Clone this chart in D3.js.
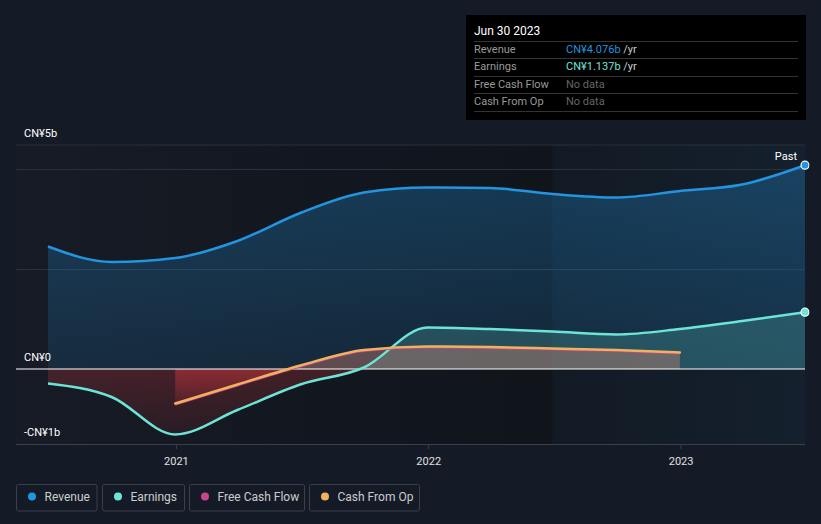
<!DOCTYPE html>
<html>
<head>
<meta charset="utf-8">
<script src="https://cdn.jsdelivr.net/npm/d3@7"></script>
<style>
  html, body { margin: 0; padding: 0; background: #151b26; }
  svg { display: block; font-family: Roboto, "Noto Sans", sans-serif; }
</style>
</head>
<body>
<svg id="chart" width="821" height="524"></svg>
<script>
// ---- data (CN¥ billions, trailing twelve months) ----
const dates = ["2020-06-30","2020-09-30","2020-12-31","2021-03-31","2021-06-30","2021-09-30","2021-12-31","2022-03-31","2022-06-30","2022-09-30","2022-12-31","2023-03-31","2023-06-30"];
const revenue = [2.45, 2.14, 2.22, 2.56, 3.12, 3.53, 3.63, 3.62, 3.50, 3.43, 3.56, 3.69, 4.076];
const earnings = [-0.29, -0.56, -1.31, -0.82, -0.31, 0.03, 0.83, 0.80, 0.75, 0.69, 0.80, 0.96, 1.137];
const cashFromOp = [null, null, -0.69, -0.31, 0.07, 0.38, 0.45, 0.44, 0.41, 0.38, 0.33, null, null];
const freeCashFlow = [null, null, -0.69, -0.31, 0.07, 0.38, 0.45, 0.44, 0.41, 0.38, 0.33, null, null];
const xTicks = ["2021-01-01", "2022-01-01", "2023-01-01"];
const xTickLabels = ["2021", "2022", "2023"];
const yLabels = ["CN¥5b", "CN¥0", "-CN¥1b"];
const yGrid = [4, 2];
const legendNames = ["Revenue", "Earnings", "Free Cash Flow", "Cash From Op"];
const tooltipTitle = "Jun 30 2023";
const tooltipRows = [
  {label: "Revenue", value: "CN¥4.076b", unit: " /yr"},
  {label: "Earnings", value: "CN¥1.137b", unit: " /yr"},
  {label: "Free Cash Flow", value: "No data", unit: ""},
  {label: "Cash From Op", value: "No data", unit: ""}
];
const pastStart = "2022-06-30";

const colors = {rev: "#2394df", earn: "#6ce5d6", fcf: "#c5468a", cfo: "#f0b35d"};
const legendColors = [colors.rev, colors.earn, colors.fcf, colors.cfo];

const parse = d3.timeParse("%Y-%m-%d");
const D = dates.map(parse);

const svg = d3.select("#chart");
const W = 821, H = 524;
const plotL = 16, plotR = 805, plotT = 145, plotB = 444;

const x = d3.scaleTime().domain([D[0], D[D.length - 1]]).range([48, 805]);
const y = d3.scaleLinear().domain([0, 4]).range([369, 169]);
const yTop = y.invert(plotT), yBot = y.invert(plotB);

const defs = svg.append("defs");
// background gradients
const bgGrad = defs.append("linearGradient").attr("id", "bgGrad").attr("x1", 0).attr("x2", 1).attr("y1", 0).attr("y2", 0);
bgGrad.append("stop").attr("offset", 0).attr("stop-color", "#161b25");
bgGrad.append("stop").attr("offset", 1).attr("stop-color", "#10141b");
const pastGrad = defs.append("linearGradient").attr("id", "pastGrad").attr("x1", 0).attr("x2", 1).attr("y1", 0).attr("y2", 0);
pastGrad.append("stop").attr("offset", 0).attr("stop-color", "#121a24");
pastGrad.append("stop").attr("offset", 1).attr("stop-color", "#14202d");

const revGrad = defs.append("linearGradient").attr("id", "revGrad").attr("gradientUnits", "userSpaceOnUse")
  .attr("x1", 0).attr("x2", 0).attr("y1", y(4)).attr("y2", y(0));
revGrad.append("stop").attr("offset", 0).attr("stop-color", colors.rev).attr("stop-opacity", 0.3);
revGrad.append("stop").attr("offset", 1).attr("stop-color", colors.rev).attr("stop-opacity", 0.14);

const redGrad = defs.append("linearGradient").attr("id", "redGrad").attr("gradientUnits", "userSpaceOnUse")
  .attr("x1", 0).attr("x2", 0).attr("y1", y(0)).attr("y2", y(-1.3));
redGrad.append("stop").attr("offset", 0).attr("stop-color", "#e0393e").attr("stop-opacity", 0.24);
redGrad.append("stop").attr("offset", 1).attr("stop-color", "#e0393e").attr("stop-opacity", 0.1);

const redGrad2 = defs.append("linearGradient").attr("id", "redGrad2").attr("gradientUnits", "userSpaceOnUse")
  .attr("x1", 0).attr("x2", 0).attr("y1", y(0)).attr("y2", y(-0.7));
redGrad2.append("stop").attr("offset", 0).attr("stop-color", "#e0393e").attr("stop-opacity", 0.45);
redGrad2.append("stop").attr("offset", 1).attr("stop-color", "#e0393e").attr("stop-opacity", 0.15);

defs.append("clipPath").attr("id", "clipPos").append("rect")
  .attr("x", plotL).attr("y", plotT).attr("width", plotR - plotL).attr("height", y(0) - plotT);
defs.append("clipPath").attr("id", "clipNeg").append("rect")
  .attr("x", plotL).attr("y", y(0)).attr("width", plotR - plotL).attr("height", plotB - y(0));

// plot backgrounds
svg.append("rect").attr("x", plotL).attr("y", plotT).attr("width", x(parse(pastStart)) - plotL).attr("height", plotB - plotT).attr("fill", "url(#bgGrad)");
svg.append("rect").attr("x", x(parse(pastStart))).attr("y", plotT).attr("width", plotR - x(parse(pastStart))).attr("height", plotB - plotT).attr("fill", "url(#pastGrad)");

// grid
svg.append("line").attr("x1", plotL).attr("x2", plotR).attr("y1", plotT).attr("y2", plotT).attr("stroke", "#2b303b").attr("stroke-width", 1);
svg.selectAll(".grid").data(yGrid).enter().append("line")
  .attr("x1", plotL).attr("x2", plotR).attr("y1", d => Math.round(y(d)) + 0.5).attr("y2", d => Math.round(y(d)) + 0.5)
  .attr("stroke", "#2b303b").attr("stroke-width", 1);

const curve = d3.curveMonotoneX;
function series(vals) {
  return vals.map((v, i) => ({d: D[i], v})).filter(p => p.v !== null);
}
const area = d3.area().curve(curve).x(p => x(p.d)).y0(y(0)).y1(p => y(p.v));
const line = d3.line().curve(curve).x(p => x(p.d)).y(p => y(p.v));

const revS = series(revenue), earnS = series(earnings), cfoS = series(cashFromOp), fcfS = series(freeCashFlow);

// areas
svg.append("path").datum(revS).attr("d", area).attr("fill", "url(#revGrad)").attr("clip-path", "url(#clipPos)");
svg.append("path").datum(earnS).attr("d", area).attr("fill", colors.earn).attr("fill-opacity", 0.2).attr("clip-path", "url(#clipPos)");
svg.append("path").datum(earnS).attr("d", area).attr("fill", "url(#redGrad)").attr("clip-path", "url(#clipNeg)");
svg.append("path").datum(cfoS).attr("d", area).attr("fill", "#e8907a").attr("fill-opacity", 0.35).attr("clip-path", "url(#clipPos)");
svg.append("path").datum(cfoS).attr("d", area).attr("fill", "url(#redGrad2)").attr("clip-path", "url(#clipNeg)");

// zero line
svg.append("line").attr("x1", plotL).attr("x2", plotR).attr("y1", y(0)).attr("y2", y(0)).attr("stroke", "#ffffff").attr("stroke-width", 1.2);

// lines
svg.append("path").datum(revS).attr("d", line).attr("fill", "none").attr("stroke", colors.rev).attr("stroke-width", 2.5);
svg.append("path").datum(earnS).attr("d", line).attr("fill", "none").attr("stroke", colors.earn).attr("stroke-width", 2.5);
svg.append("path").datum(fcfS).attr("d", line).attr("fill", "none").attr("stroke", colors.fcf).attr("stroke-width", 2.5).attr("transform", "translate(0,0.8)");
svg.append("path").datum(cfoS).attr("d", line).attr("fill", "none").attr("stroke", colors.cfo).attr("stroke-width", 2.5).attr("stroke-linecap", "round");

// end dots
[[revS, colors.rev], [earnS, colors.earn]].forEach(([s, c]) => {
  const p = s[s.length - 1];
  svg.append("circle").attr("cx", x(p.d)).attr("cy", y(p.v)).attr("r", 4).attr("fill", c).attr("stroke", "#ffffff").attr("stroke-width", 1.2);
});

// cover beyond plot right
svg.append("rect").attr("x", plotR + 4.5).attr("y", plotT - 5).attr("width", W - plotR).attr("height", plotB - plotT + 10).attr("fill", "#151b26");

// Past label
svg.append("text").attr("x", 797).attr("y", 160).attr("text-anchor", "end").attr("fill", "#ffffff").attr("font-size", 11).text("Past");

// y labels
const yLabelPos = [137, 361, 436];
svg.selectAll(".ylab").data(yLabels).enter().append("text")
  .attr("x", 24).attr("y", (d, i) => yLabelPos[i]).attr("fill", "#ffffff").attr("font-size", 11).text(d => d);

// x axis
const xAxis = d3.axisBottom(x).tickValues(xTicks.map(parse)).tickFormat((d, i) => xTickLabels[i]).tickSize(5).tickSizeOuter(0);
const gx = svg.append("g").attr("transform", `translate(0,${plotB})`).call(xAxis);
gx.select(".domain").remove();
gx.selectAll(".tick line").attr("stroke", "#3a3f4a");
gx.selectAll(".tick text").attr("fill", "#e0e0e0").attr("font-size", 11).attr("font-family", "Roboto, sans-serif").attr("dy", "1.2em");
svg.append("line").attr("x1", plotL).attr("x2", plotR).attr("y1", plotB + 0.5).attr("y2", plotB + 0.5).attr("stroke", "#3a3f4a");

// legend
const legX = [16.5, 102.5, 189.5, 309.5];
const legW = [80.5, 82, 115, 110];
const lg = svg.append("g");
legendNames.forEach((n, i) => {
  const g = lg.append("g").attr("transform", `translate(${legX[i]},484.5)`);
  g.append("rect").attr("width", legW[i]).attr("height", 26.5).attr("rx", 2).attr("fill", "none").attr("stroke", "#3a3f4a");
  g.append("circle").attr("cx", 15.5).attr("cy", 12).attr("r", 4).attr("fill", legendColors[i]);
  g.append("text").attr("x", 28).attr("y", 16.5).attr("fill", "#cccccc").attr("font-size", 12).text(n);
});

// tooltip
const tt = svg.append("g").attr("transform", "translate(466,15)");
tt.append("rect").attr("width", 340).attr("height", 105).attr("fill", "#000000");
tt.append("text").attr("x", 8).attr("y", 20).attr("fill", "#ffffff").attr("font-size", 12).text(tooltipTitle);
const sepY = [26.5, 43.5, 61.5, 78.5, 96.5];
sepY.forEach(sy => tt.append("line").attr("x1", 8).attr("x2", 332).attr("y1", sy).attr("y2", sy).attr("stroke", "#333333"));
const valColors = [colors.rev, colors.earn, "#666666", "#666666"];
tooltipRows.forEach((r, i) => {
  const ty = 38 + i * 17.3;
  tt.append("text").attr("x", 8).attr("y", ty).attr("fill", "#999999").attr("font-size", 11).text(r.label);
  const t = tt.append("text").attr("x", 100).attr("y", ty).attr("font-size", 11);
  t.append("tspan").attr("fill", valColors[i]).text(r.value);
  if (r.unit) t.append("tspan").attr("fill", "#cccccc").text(r.unit);
});
</script>
</body>
</html>
